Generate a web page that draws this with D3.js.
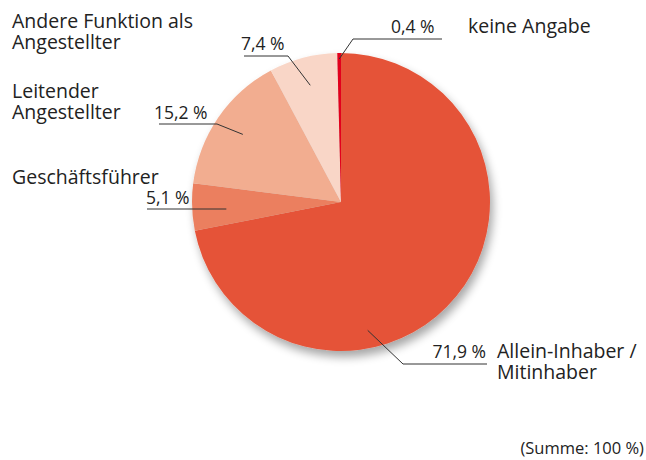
<!DOCTYPE html>
<html>
<head>
<meta charset="utf-8">
<script src="https://cdn.jsdelivr.net/npm/d3@7"></script>
<style>
  html, body { margin: 0; padding: 0; background: #fff; }
  svg { display: block; font-family: "Open Sans", "Noto Sans", sans-serif; }
  .lbl { fill: #222; font-size: 19.5px; }
  .pct { fill: #222; font-size: 17.5px; }
  .note { fill: #222; font-size: 16.5px; }
  .lead { stroke: #333; stroke-width: 1; fill: none; }
</style>
</head>
<body>
<svg id="chart" width="646" height="460"></svg>
<script>
// ─── Data ─────────────────────────────────────────────────────────────────────
const categories = ['Allein-Inhaber / Mitinhaber', 'Geschäftsführer', 'Leitender Angestellter',
                    'Andere Funktion als Angestellter', 'keine Angabe'];
const values     = [71.9, 5.1, 15.2, 7.4, 0.4];
const pctLabels  = ['71,9 %', '5,1 %', '15,2 %', '7,4 %', '0,4 %'];
const colors     = ['#e55338', '#eb7f5e', '#f2ad90', '#f9d6c7', '#e2001a'];

// ─── Layout ───────────────────────────────────────────────────────────────────
const W = 646, H = 460;
const CX = 341, CY = 202, R = 149;

// label placement per slice: name lines, % text, underline, leader anchor
const LAYOUT = [
  { name: ['Allein-Inhaber /', 'Mitinhaber'], nx: 497, ny: 358,
    px: 486, py: 358, anchor: 'end', ux0: 403, ux1: 487, uy: 364, at: 0.65, ar: 0.88, from: 'ux0' },
  { name: ['Geschäftsführer'], nx: 12, ny: 184,
    px: 146, py: 204, anchor: 'start', ux0: 147, ux1: null, uy: 209, at: 0.5, ar: 0.77, from: 'flat' },
  { name: ['Leitender', 'Angestellter'], nx: 12, ny: 98,
    px: 154, py: 119, anchor: 'start', ux0: 159, ux1: 217, uy: 124, at: 0.5, ar: 0.8, from: 'ux1' },
  { name: ['Andere Funktion als', 'Angestellter'], nx: 12, ny: 28,
    px: 241, py: 50, anchor: 'start', ux0: 244, ux1: 288, uy: 56, at: 0.5, ar: 0.81, from: 'ux1' },
  { name: ['keine Angabe'], nx: 468, ny: 33,
    px: 391, py: 33, anchor: 'start', ux0: 353, ux1: 442, uy: 39, at: 0.5, ar: 0.96, from: 'ux0' }
];

const svg = d3.select('#chart');

const defs = svg.append('defs');
const f = defs.append('filter').attr('id', 'shadow')
  .attr('x', '-20%').attr('y', '-20%').attr('width', '140%').attr('height', '140%');
f.append('feGaussianBlur').attr('in', 'SourceAlpha').attr('stdDeviation', 5).attr('result', 'b');
f.append('feOffset').attr('in', 'b').attr('dx', 3).attr('dy', 6).attr('result', 'o');
f.append('feComponentTransfer').attr('in', 'o').attr('result', 's')
  .append('feFuncA').attr('type', 'linear').attr('slope', 0.35);
f.append('feGaussianBlur').attr('in', 'SourceGraphic').attr('stdDeviation', 0.7).attr('result', 'p');
const m = f.append('feMerge');
m.append('feMergeNode').attr('in', 's');
m.append('feMergeNode').attr('in', 'p');

const pie = d3.pie().sort(null).value(d => d)
  .startAngle(0).endAngle(2 * Math.PI);
const arcs = pie(values);
const arc = d3.arc().innerRadius(0).outerRadius(R);

const g = svg.append('g').attr('transform', `translate(${CX},${CY})`);
g.append('g').attr('filter', 'url(#shadow)')
  .selectAll('path').data(arcs).join('path')
  .attr('d', arc)
  .attr('fill', (d, i) => colors[i]);

// ── Labels ────────────────────────────────────────────────────────────────
function anchorPt(d, L) {
  const a = d.startAngle + (d.endAngle - d.startAngle) * L.at;
  const r = R * L.ar;
  return [CX + r * Math.sin(a), CY - r * Math.cos(a)];
}

arcs.forEach((d, i) => {
  const L = LAYOUT[i];
  const [ax, ay] = anchorPt(d, L);

  // leader
  let pts;
  if (L.from === 'flat') pts = [[L.ux0, L.uy], [ax, L.uy]];
  else if (L.from === 'ux1') pts = [[L.ux0, L.uy], [L.ux1, L.uy], [ax, ay]];
  else pts = [[L.ux1, L.uy], [L.ux0, L.uy], [ax, ay]];
  svg.append('path').attr('class', 'lead').attr('d', d3.line()(pts));

  svg.append('text').attr('class', 'pct')
    .attr('x', L.px).attr('y', L.py).attr('text-anchor', L.anchor)
    .text(pctLabels[i]);

  const t = svg.append('text').attr('class', 'lbl').attr('x', L.nx).attr('y', L.ny);
  L.name.forEach((s, k) => {
    t.append('tspan').attr('x', L.nx).attr('y', L.ny + k * 21).text(s);
  });
});

svg.append('text').attr('class', 'note')
  .attr('x', 644).attr('y', 454).attr('text-anchor', 'end')
  .text('(Summe: 100 %)');
</script>
</body>
</html>
